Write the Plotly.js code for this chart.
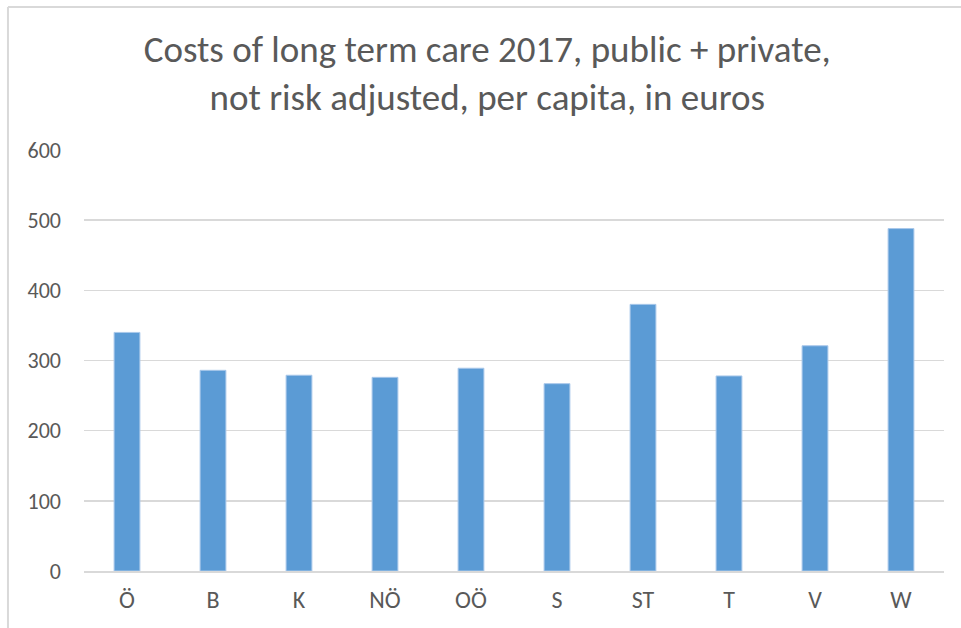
<!DOCTYPE html>
<html>
<head>
<meta charset="utf-8">
<script src="https://cdn.plot.ly/plotly-3.0.1.min.js"></script>
<style>
html,body{margin:0;padding:0;background:#fff;}
#chart{width:961px;height:628px;}
</style>
</head>
<body>
<div id="chart"></div>
<script>
const categories = ["Ö","B","K","NÖ","OÖ","S","ST","T","V","W"];
const costs = [340, 286, 279, 276, 289, 267, 380, 278, 321, 488];
const yTicks = [0,100,200,300,400,500,600];

const fontFam = "Carlito, 'Liberation Sans Narrow', 'Open Sans', sans-serif";

Plotly.newPlot('chart', [{
  type: 'bar',
  x: categories,
  y: costs,
  marker: {color: '#5b9bd5', line: {color: '#a9c8ea', width: 1}},
  hoverinfo: 'x+y'
}], {
  width: 961, height: 628,
  margin: {l: 84, r: 17, t: 150, b: 57},
  paper_bgcolor: '#fff', plot_bgcolor: '#fff',
  bargap: 0.7,
  title: {
    text: 'Costs of long term care 2017, public + private,<br>not risk adjusted, per capita, in euros',
    font: {family: fontFam, size: 37, color: '#595959'},
    x: 0.507, xanchor: 'center', xref: 'container',
    yref: 'container', y: 0.902, yanchor: 'middle'
  },
  xaxis: {
    tickfont: {family: fontFam, size: 24, color: '#595959'},
    showline: true, linecolor: '#d9d9d9', linewidth: 1.5,
    ticks: '', showgrid: false, ticklabelstandoff: 7
  },
  yaxis: {
    range: [0, 600], tickvals: yTicks, ticktext: yTicks.map(String),
    tickfont: {family: fontFam, size: 22, color: '#595959'},
    showgrid: true, gridcolor: '#d9d9d9', gridwidth: 1.5,
    zeroline: false, showline: false, ticks: '', ticklen: 0,
    ticklabelstandoff: 22
  },
  shapes: [
    {type: 'line', xref: 'paper', yref: 'paper',
     x0: -0.0884, x1: 1.03, y0: 1.3397, y1: 1.3397,
     line: {color: '#d9d9d9', width: 2}},
    {type: 'line', xref: 'paper', yref: 'paper',
     x0: -0.0884, x1: -0.0884, y0: 1.3397, y1: -0.15,
     line: {color: '#d9d9d9', width: 2}}
  ],
  showlegend: false
}, {displayModeBar: false, staticPlot: true});
</script>
</body>
</html>
